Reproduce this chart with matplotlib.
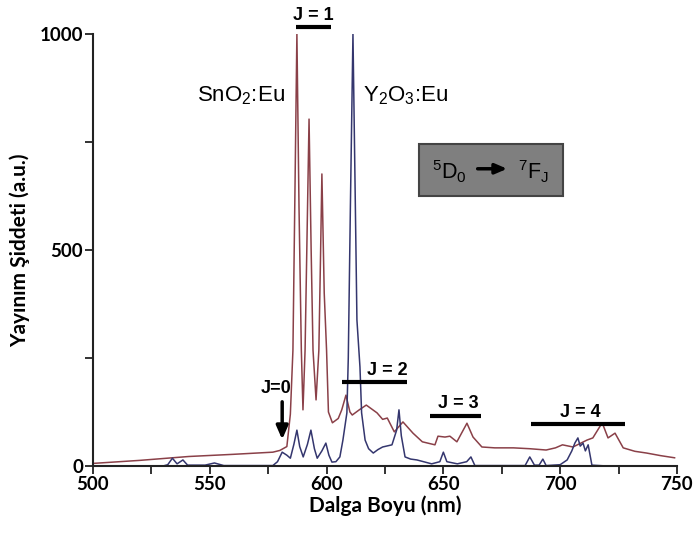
"""
Eu emission spectra of SnO2:Eu and Y2O3:Eu (5D0 -> 7FJ)
"""

import matplotlib
matplotlib.use("Agg")
import matplotlib.pyplot as plt
from matplotlib.ticker import MultipleLocator

plt.rcParams["mathtext.fontset"] = "custom"
plt.rcParams["mathtext.rm"] = "Liberation Sans"
plt.rcParams["mathtext.it"] = "Liberation Sans:italic"

# SnO2:Eu spectrum (nm, a.u.)
sno2_nm = [500, 520, 541, 560, 577, 580, 583, 584.5, 585.6, 586.5, 587.3, 588.2, 589.2,
           589.9, 590.8, 591.7, 592.5, 593.4, 594.2, 595.5, 596.7, 597.4, 598, 599,
           600, 600.8, 602.5, 605, 606.5, 608.3, 610, 611, 614, 617, 621.6, 624, 626,
           629, 632.7, 637, 641, 646.4, 647.7, 650.7, 652.8, 655.8, 660.1, 662.7,
           666.5, 672, 680, 687, 694, 698, 701, 705.5, 711.5, 714, 718, 720.5,
           723.5, 727, 732, 737, 743, 749]
sno2_int = [6, 13, 22, 27, 32, 36, 45, 120, 268, 650, 1000, 600, 268,
            130, 268, 550, 803, 500, 268, 153, 268, 480, 676, 400,
            268, 125, 100, 110, 130, 164, 125, 118, 130, 141, 123, 108, 111,
            79, 102, 76, 56, 49, 69, 67, 69, 56, 99, 67,
            44, 42, 42, 40, 37, 42, 49, 44, 60, 65, 100, 65,
            76, 42, 34, 30, 24, 19]

# Y2O3:Eu spectrum
y2o3_nm = [500, 530, 532, 534, 536, 538.5, 540.5, 548, 552, 556, 577, 579, 581, 583,
           584.5, 586, 587.3, 588.5, 590, 591.8, 593.3, 594.8, 596, 598, 599.7, 601,
           602.3, 604, 605.7, 607, 608.7, 609.3, 610.2, 611.3, 612.2, 613, 614.3, 615,
           616.5, 618, 620, 622, 624, 628, 630, 631, 632, 633.6, 636, 638.7, 645,
           648.5, 650, 651.5, 656, 660, 661.8, 663.5, 685, 687, 689, 691, 692.6, 694,
           700, 703, 705, 706.3, 707.6, 708.6, 709.8, 710.8, 712, 713.6, 720, 750]
y2o3_int = [0, 0, 3, 18, 5, 14, 2, 2, 7, 1, 1, 10, 32, 25,
            18, 50, 83, 45, 21, 50, 83, 40, 18, 35, 53, 25,
            9, 10, 21, 60, 123, 250, 600, 1000, 650, 338, 229, 123,
            60, 40, 30, 38, 44, 49, 83, 130, 70, 21, 16, 14, 5,
            10, 32, 10, 5, 10, 21, 1, 1, 21, 2, 2, 16, 1,
            3, 14, 35, 53, 65, 46, 53, 35, 49, 2, 0, 0]

# J-band labels: (text, text centre nm, bar start nm, bar end nm, bar level)
bands = [("J = 1", 594.5, 587, 602, 1016),
         ("J = 2", 626.0, 606.6, 634.4, 194),
         ("J = 3", 656.5, 644.3, 666, 116),
         ("J = 4", 708.5, 687.5, 727.7, 97)]

fig = plt.figure(figsize=(6.96, 5.36), dpi=100)
ax = fig.add_axes([0.1336, 0.1306, 0.839, 0.806])

ax.plot(sno2_nm, sno2_int, color="#8a4048", linewidth=1.1)
ax.plot(y2o3_nm, y2o3_int, color="#34366e", linewidth=1.1)

ax.set_xlim(500, 750)
ax.set_ylim(0, 1000)
ax.xaxis.set_major_locator(MultipleLocator(50))
ax.xaxis.set_minor_locator(MultipleLocator(25))
ax.yaxis.set_major_locator(MultipleLocator(500))
ax.yaxis.set_minor_locator(MultipleLocator(250))

for side in ["top", "right"]:
    ax.spines[side].set_visible(False)
for side in ["left", "bottom"]:
    ax.spines[side].set_linewidth(1.5)
    ax.spines[side].set_color("#222222")
ax.tick_params(which="both", direction="out", length=6, width=1.3, color="#222222")
ax.tick_params(axis="x", pad=1)
ax.tick_params(axis="y", pad=1)
for lab in ax.get_xticklabels() + ax.get_yticklabels():
    lab.set_fontfamily("Lato")
    lab.set_fontweight("bold")
    lab.set_fontsize(13.5)

ax.set_xlabel("Dalga Boyu (nm)", fontfamily="Lato", fontweight="bold", fontsize=15, labelpad=2)
ax.set_ylabel("Yayınım Şiddeti (a.u.)", fontfamily="Lato", fontweight="bold", fontsize=15)
ax.yaxis.set_label_coords(-0.108, 0.5)

# band markers
for text, xt, x0, x1, lvl in bands:
    ax.plot([x0, x1], [lvl, lvl], color="black", linewidth=3, solid_capstyle="butt", clip_on=False)
    ax.text(xt, lvl + 8, text, ha="center", va="bottom", fontsize=13,
            fontfamily="Liberation Sans", fontweight="bold", clip_on=False)

# J=0 arrow
ax.annotate("", xy=(581, 55), xytext=(581, 155),
            arrowprops=dict(arrowstyle="-|>,head_width=0.35,head_length=0.8", color="black", lw=2.5))
ax.text(578.5, 160, "J=0", ha="center", va="bottom", fontsize=13,
        fontfamily="Liberation Sans", fontweight="bold")

# sample labels
ax.text(563.5, 858, r"SnO$_{\mathrm{2}}$:Eu", ha="center", va="center", fontsize=16,
        fontfamily="Liberation Sans")
ax.text(633.8, 858, r"Y$_{\mathrm{2}}$O$_{\mathrm{3}}$:Eu", ha="center", va="center", fontsize=16,
        fontfamily="Liberation Sans")

# transition box
ax.add_patch(plt.Rectangle((639.5, 625), 61.7, 120, facecolor="#7f7f7f",
                           edgecolor="#444444", linewidth=1.5))
ax.text(652.4, 682, r"$^{5}$D$_{0}$", ha="center", va="center", fontsize=15.5,
        fontfamily="Liberation Sans")
ax.annotate("", xy=(678.5, 688), xytext=(663.5, 688),
            arrowprops=dict(arrowstyle="-|>,head_width=0.3,head_length=0.7", color="black", lw=2.5))
ax.text(688.4, 682, r"$^{7}$F$_{\mathrm{J}}$", ha="center", va="center", fontsize=15.5,
        fontfamily="Liberation Sans")

fig.savefig("out.png", dpi=100)
